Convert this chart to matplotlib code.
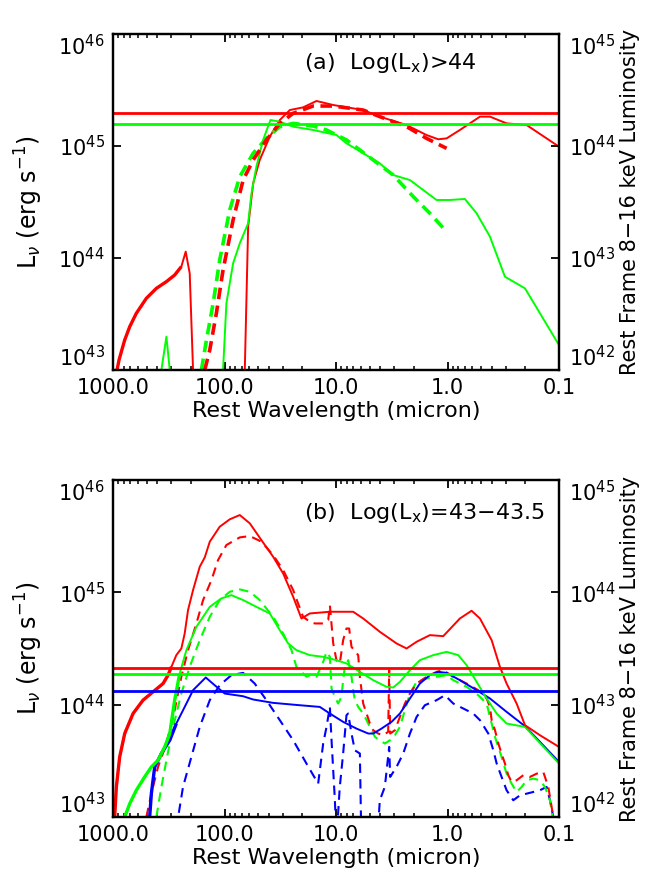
import numpy as np
import matplotlib
matplotlib.use('Agg')
import matplotlib.pyplot as plt
from matplotlib.ticker import FixedLocator, FixedFormatter, LogLocator, NullLocator

plt.rcParams['font.family'] = ['DejaVu Sans']

# ---------------- data: (log10 wavelength [micron], log10 L_nu [erg/s]) ----------------
xticks = [1000, 100, 10, 1, 0.1]
xtick_labels = ['1000.0', '100.0', '10.0', '1.0', '0.1']
yticks_left = [1e43, 1e44, 1e45, 1e46]
yticks_right = [1e42, 1e43, 1e44, 1e45]

# Panel (a)  Log(Lx) > 44
a_red_solid = [(2.964, 43.0), (2.946, 43.089), (2.925, 43.164), (2.895, 43.268), (2.850, 43.387),
               (2.791, 43.506), (2.701, 43.640), (2.611, 43.729), (2.521, 43.789), (2.447, 43.848),
               (2.387, 43.923), (2.348, 44.057), (2.312, 43.863), (2.282, 43.0), (1.818, 43.0),
               (1.788, 44.280), (1.743, 44.667), (1.684, 44.875), (1.594, 45.083), (1.504, 45.232),
               (1.414, 45.321), (1.295, 45.345), (1.175, 45.402), (1.025, 45.366), (0.756, 45.321),
               (0.607, 45.262), (0.367, 45.187), (0.188, 45.098), (0.083, 45.060), (0.008, 45.068),
               (-0.111, 45.143), (-0.291, 45.262), (-0.381, 45.262), (-0.530, 45.202),
               (-0.710, 45.187), (-1.0, 44.994)]
a_red_dash = [(2.177, 43.0), (2.132, 43.179), (2.073, 43.506), (2.013, 43.893), (1.923, 44.339),
              (1.833, 44.696), (1.743, 44.875), (1.624, 45.054), (1.504, 45.202), (1.384, 45.292),
              (1.205, 45.357), (1.025, 45.357), (0.756, 45.321), (0.607, 45.262), (0.367, 45.173),
              (0.188, 45.068), (0.008, 44.979)]
a_green_solid = [(2.611, 43.0), (2.566, 43.0), (2.521, 43.298), (2.491, 43.0), (2.013, 43.0),
                 (1.983, 43.595), (1.923, 43.952), (1.863, 44.131), (1.788, 44.310), (1.758, 44.577),
                 (1.714, 44.815), (1.654, 45.054), (1.588, 45.232), (1.504, 45.217), (1.384, 45.173),
                 (1.205, 45.143), (0.996, 45.098), (0.906, 45.024), (0.756, 44.935), (0.607, 44.845),
                 (0.487, 44.741), (0.337, 44.696), (0.218, 44.607), (0.098, 44.518), (-0.022, 44.518),
                 (-0.156, 44.527), (-0.261, 44.399), (-0.381, 44.190), (-0.515, 43.833),
                 (-0.695, 43.729), (-1.0, 43.223)]
a_green_dash = [(2.207, 43.0), (2.162, 43.268), (2.102, 43.595), (2.043, 43.982), (1.953, 44.429),
                (1.863, 44.726), (1.743, 44.935), (1.624, 45.068), (1.504, 45.173), (1.384, 45.202),
                (1.205, 45.179), (1.085, 45.143), (0.906, 45.054), (0.666, 44.875), (0.487, 44.741),
                (0.307, 44.548), (0.158, 44.399), (0.008, 44.235)]
a_hlines = {'red': 1.96e45, 'green': 1.58e45}

# Panel (b)  Log(Lx) = 43-43.5
b_red_solid = [(2.985, 43.0), (2.970, 43.268), (2.940, 43.535), (2.895, 43.743), (2.820, 43.921),
               (2.731, 44.040), (2.641, 44.114), (2.551, 44.188), (2.506, 44.263), (2.476, 44.337),
               (2.432, 44.441), (2.387, 44.500), (2.357, 44.634), (2.327, 44.842), (2.282, 45.020),
               (2.222, 45.228), (2.177, 45.311), (2.132, 45.451), (2.043, 45.584), (1.953, 45.650),
               (1.863, 45.688), (1.773, 45.614), (1.669, 45.465), (1.564, 45.317), (1.474, 45.168),
               (1.384, 44.960), (1.310, 44.767), (1.235, 44.812), (1.055, 44.827), (0.846, 44.827),
               (0.756, 44.767), (0.607, 44.649), (0.457, 44.545), (0.367, 44.500), (0.277, 44.560),
               (0.158, 44.619), (0.038, 44.610), (-0.111, 44.767), (-0.216, 44.836), (-0.291, 44.767),
               (-0.396, 44.574), (-0.470, 44.337), (-0.530, 44.188), (-0.620, 44.010),
               (-0.695, 43.817), (-0.829, 43.728), (-1.0, 43.624)]
b_red_dash = [(2.701, 43.0), (2.656, 43.208), (2.596, 43.446), (2.521, 43.654), (2.447, 43.951),
              (2.387, 44.248), (2.327, 44.485), (2.252, 44.723), (2.192, 44.931), (2.117, 45.109),
              (2.058, 45.287), (1.983, 45.421), (1.863, 45.489), (1.773, 45.501), (1.669, 45.451),
              (1.564, 45.332), (1.474, 45.198), (1.384, 45.020), (1.340, 44.901), (1.295, 44.782),
              (1.235, 44.738), (1.190, 44.723), (1.115, 44.723), (1.070, 44.753), (1.055, 44.886),
              (1.025, 44.545), (0.996, 44.396), (0.966, 44.367), (0.936, 44.574), (0.906, 44.678),
              (0.882, 44.678), (0.861, 44.515), (0.801, 44.441), (0.786, 44.248), (0.771, 44.129),
              (0.756, 44.010), (0.726, 43.921), (0.696, 43.832), (0.666, 43.772), (0.622, 43.743),
              (0.577, 43.728), (0.532, 43.758), (0.523, 44.307), (0.514, 43.743), (0.472, 43.772),
              (0.427, 43.891), (0.382, 44.010), (0.337, 44.099), (0.277, 44.188), (0.188, 44.248),
              (0.098, 44.292), (0.038, 44.307), (-0.052, 44.248), (-0.171, 44.188), (-0.276, 44.129),
              (-0.351, 44.055), (-0.381, 43.980), (-0.396, 43.862), (-0.426, 43.772),
              (-0.456, 43.654), (-0.485, 43.565), (-0.515, 43.476), (-0.545, 43.372),
              (-0.575, 43.312), (-0.620, 43.327), (-0.680, 43.372), (-0.740, 43.357),
              (-0.800, 43.386), (-0.859, 43.401), (-0.904, 43.268), (-0.934, 43.089), (-0.949, 43.0)]
b_green_solid = [(2.985, 43.0), (2.895, 43.0), (2.850, 43.119), (2.791, 43.238), (2.716, 43.357),
                 (2.656, 43.446), (2.596, 43.505), (2.536, 43.624), (2.491, 43.743), (2.447, 44.040),
                 (2.402, 44.277), (2.342, 44.485), (2.252, 44.693), (2.132, 44.871), (2.028, 44.946),
                 (1.938, 44.975), (1.833, 44.931), (1.714, 44.871), (1.594, 44.812), (1.504, 44.663),
                 (1.429, 44.545), (1.355, 44.485), (1.235, 44.441), (1.115, 44.426), (0.996, 44.396),
                 (0.906, 44.367), (0.786, 44.292), (0.666, 44.218), (0.547, 44.159), (0.487, 44.153),
                 (0.427, 44.203), (0.337, 44.307), (0.248, 44.396), (0.128, 44.441), (0.008, 44.470),
                 (-0.097, 44.441), (-0.171, 44.352), (-0.261, 44.203), (-0.351, 44.055),
                 (-0.441, 43.921), (-0.530, 43.832), (-0.695, 43.802), (-1.0, 43.476)]
b_green_dash = [(2.611, 43.0), (2.566, 43.268), (2.521, 43.505), (2.461, 43.802), (2.387, 44.099),
                (2.312, 44.337), (2.222, 44.574), (2.132, 44.782), (2.043, 44.931), (1.953, 45.005),
                (1.863, 45.026), (1.773, 45.005), (1.684, 44.931), (1.564, 44.782), (1.474, 44.634),
                (1.399, 44.485), (1.355, 44.337), (1.265, 44.248), (1.235, 44.263), (1.175, 44.248),
                (1.115, 44.381), (1.085, 44.470), (1.055, 44.426), (1.040, 44.144), (1.010, 44.069),
                (0.981, 44.010), (0.951, 44.069), (0.936, 44.218), (0.921, 44.337), (0.891, 44.396),
                (0.861, 44.248), (0.846, 44.129), (0.831, 44.040), (0.801, 43.980), (0.756, 43.921),
                (0.726, 43.862), (0.696, 43.802), (0.651, 43.713), (0.607, 43.683), (0.562, 43.654),
                (0.517, 43.683), (0.472, 43.728), (0.427, 43.802), (0.382, 43.951), (0.337, 44.099),
                (0.277, 44.203), (0.188, 44.233), (0.098, 44.248), (0.008, 44.263), (-0.052, 44.218),
                (-0.171, 44.159), (-0.276, 44.084), (-0.351, 44.010), (-0.396, 43.832),
                (-0.426, 43.713), (-0.485, 43.535), (-0.530, 43.386), (-0.575, 43.297),
                (-0.620, 43.223), (-0.665, 43.268), (-0.710, 43.327), (-0.770, 43.342),
                (-0.829, 43.327), (-0.874, 43.268), (-0.919, 43.149), (-0.943, 43.0)]
b_blue_solid = [(2.985, 43.0), (2.671, 43.0), (2.656, 43.208), (2.626, 43.446), (2.566, 43.565),
                (2.491, 43.684), (2.432, 43.832), (2.357, 43.980), (2.282, 44.129), (2.168, 44.242),
                (2.088, 44.173), (1.998, 44.099), (1.833, 44.075), (1.743, 44.046), (1.564, 44.016),
                (1.325, 43.995), (1.145, 43.980), (1.055, 43.921), (0.936, 43.847), (0.816, 43.787),
                (0.711, 43.743), (0.666, 43.743), (0.592, 43.787), (0.502, 43.847), (0.427, 43.921),
                (0.367, 44.010), (0.307, 44.099), (0.248, 44.188), (0.158, 44.263), (0.083, 44.292),
                (0.008, 44.283), (-0.111, 44.218), (-0.261, 44.129), (-0.381, 44.055),
                (-0.530, 43.936), (-0.695, 43.808), (-0.829, 43.669), (-1.0, 43.490)]
b_blue_dash = [(2.432, 42.9), (2.372, 43.268), (2.297, 43.535), (2.222, 43.802), (2.132, 44.040),
               (2.043, 44.173), (1.938, 44.263), (1.833, 44.283), (1.729, 44.188), (1.624, 44.040),
               (1.504, 43.862), (1.384, 43.683), (1.265, 43.476), (1.160, 43.297), (1.115, 43.654),
               (1.085, 43.802), (1.055, 43.980), (1.040, 43.683), (1.010, 43.149), (0.996, 42.8),
               (0.966, 43.268), (0.936, 43.565), (0.906, 43.906), (0.891, 43.921), (0.861, 43.743),
               (0.831, 43.594), (0.786, 43.565), (0.771, 42.7), (0.636, 42.7), (0.607, 43.149),
               (0.562, 43.268), (0.523, 43.624), (0.514, 43.357), (0.457, 43.446), (0.397, 43.565),
               (0.337, 43.743), (0.277, 43.891), (0.203, 43.995), (0.098, 44.040), (0.023, 44.084),
               (-0.052, 44.010), (-0.141, 43.966), (-0.231, 43.921), (-0.291, 43.862),
               (-0.366, 43.743), (-0.411, 43.594), (-0.441, 43.476), (-0.485, 43.357),
               (-0.530, 43.238), (-0.590, 43.149), (-0.650, 43.193), (-0.710, 43.208),
               (-0.770, 43.223), (-0.829, 43.238), (-0.889, 43.268), (-0.919, 43.149),
               (-0.949, 43.0), (-1.0, 43.0)]
b_hlines = {'red': 2.14e44, 'green': 1.86e44, 'blue': 1.31e44}

COL = {'red': '#ff0000', 'green': '#00ff00', 'blue': '#0000ff'}


def xy(pairs):
    arr = np.array(pairs, dtype=float)
    return 10 ** arr[:, 0], 10 ** arr[:, 1]


fig = plt.figure(figsize=(6.52, 8.8), dpi=100)
ax_a = fig.add_axes([113 / 652, 1 - 370 / 880, 446 / 652, 336 / 880])
ax_b = fig.add_axes([113 / 652, 1 - 817 / 880, 446 / 652, 337 / 880])

FS_TICK = 15
FS_LAB = 16


def style(ax):
    ax.set_xscale('log')
    ax.set_yscale('log')
    ax.set_xlim(1000, 0.1)
    ax.set_ylim(1e43, 1e46)
    ax.xaxis.set_major_locator(FixedLocator(xticks))
    ax.xaxis.set_major_formatter(FixedFormatter(xtick_labels))
    ax.xaxis.set_minor_locator(LogLocator(base=10, subs=np.arange(2, 10)))
    ax.yaxis.set_major_locator(FixedLocator(yticks_left))
    ax.yaxis.set_minor_locator(NullLocator())
    ax.tick_params(axis='x', which='both', direction='in', top=True, bottom=True,
                   labelsize=FS_TICK, pad=6)
    ax.tick_params(axis='x', which='major', length=6, width=1.3)
    ax.tick_params(axis='x', which='minor', length=3, width=1.1)
    ax.tick_params(axis='y', which='major', direction='in', left=True, right=False,
                   length=6, width=1.3, labelsize=FS_TICK, pad=6)
    for s in ax.spines.values():
        s.set_linewidth(1.6)
    ax.set_xlabel('Rest Wavelength (micron)', fontsize=FS_LAB, labelpad=2)
    ax.set_ylabel(r'L$_{\nu}$ (erg s$^{-1}$)', fontsize=17)
    ax.yaxis.set_label_coords(-0.152, 0.5)

    axr = ax.twinx()
    axr.set_yscale('log')
    axr.set_ylim(1e42, 1e45)
    axr.yaxis.set_major_locator(FixedLocator(yticks_right))
    axr.yaxis.set_minor_locator(NullLocator())
    axr.tick_params(axis='y', which='major', direction='in', right=True, length=6, width=1.3,
                    labelsize=FS_TICK, pad=7)
    for s in axr.spines.values():
        s.set_linewidth(1.6)
    axr.set_ylabel('Rest Frame 8\u221216 keV Luminosity', fontsize=15)
    axr.yaxis.set_label_coords(1.137, 0.5)
    return axr


rights = [style(ax_a), style(ax_b)]
lw_s = 1.4
lw_dense = 2.4   # densely sampled long-wavelength parts render thicker in the original

# Panel (a)
x, y = xy(a_red_solid)
ax_a.plot(x, y, color=COL['red'], lw=lw_s)
ax_a.plot(x[:11], y[:11], color=COL['red'], lw=lw_dense, solid_capstyle='butt')
x, y = xy(a_green_solid)
ax_a.plot(x, y, color=COL['green'], lw=lw_s)
x, y = xy(a_green_dash)
ax_a.plot(x, y, color=COL['green'], lw=2.6, dashes=(3.2, 1.8))
x, y = xy(a_red_dash)
ax_a.plot(x, y, color=COL['red'], lw=2.6, dashes=(3.2, 1.8))
for c, v in a_hlines.items():
    ax_a.axhline(v, color=COL[c], lw=2.0)
ax_a.text(0.428, 0.915, r'(a)  Log(L$_{\rm x}$)>44', transform=ax_a.transAxes, fontsize=FS_LAB,
          ha='left', va='center')

# Panel (b)
for name, data in [('blue', b_blue_dash), ('green', b_green_dash), ('red', b_red_dash)]:
    x, y = xy(data)
    ax_b.plot(x, y, color=COL[name], lw=1.5, dashes=(4.5, 3))
dense_parts = {'blue': (1, 7), 'green': (1, 11), 'red': (0, 10)}
for name, data in [('blue', b_blue_solid), ('green', b_green_solid), ('red', b_red_solid)]:
    x, y = xy(data)
    ax_b.plot(x, y, color=COL[name], lw=lw_s)
    i0, i1 = dense_parts[name]
    ax_b.plot(x[i0:i1], y[i0:i1], color=COL[name], lw=lw_dense, solid_capstyle='butt')
for c, v in b_hlines.items():
    ax_b.axhline(v, color=COL[c], lw=2.0)
ax_b.text(0.428, 0.902, r'(b)  Log(L$_{\rm x}$)=43$-$43.5', transform=ax_b.transAxes,
          fontsize=FS_LAB, ha='left', va='center')

# keep the end labels of the y axes inside the frame, as in the reference
fig.canvas.draw()
for ax in [ax_a, ax_b] + rights:
    ticks = ax.yaxis.get_major_ticks()
    for lab in (ticks[0].label1, ticks[0].label2):
        lab.set_verticalalignment('bottom')
    for lab in (ticks[-1].label1, ticks[-1].label2):
        lab.set_verticalalignment('top')

fig.savefig('out.png', dpi=100)
